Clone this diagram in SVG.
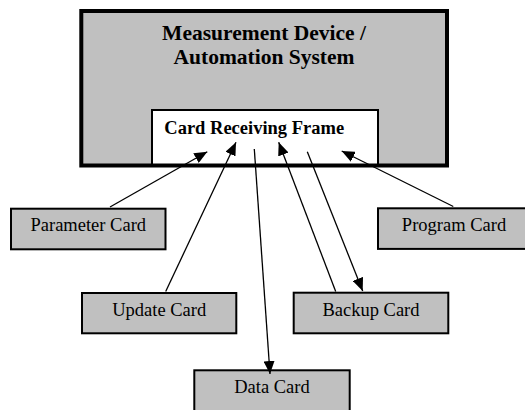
<svg xmlns="http://www.w3.org/2000/svg" width="525" height="410" viewBox="0 0 525 410">
<style>
.main{fill:#c0c0c0;stroke:none}
.outline{fill:none;stroke:#000;stroke-width:4}
.frame{fill:#fff;stroke:#000;stroke-width:2}
.card{fill:#c0c0c0;stroke:#000;stroke-width:2}
.title{font-family:"Liberation Serif","Times New Roman",serif;font-weight:bold;font-size:21.5px;fill:#000;text-anchor:middle}
.ftext{font-family:"Liberation Serif","Times New Roman",serif;font-weight:bold;font-size:18.5px;fill:#000}
.ctext{font-family:"Liberation Serif","Times New Roman",serif;font-size:18.5px;fill:#000;text-anchor:middle}
.conn{fill:none;stroke:#000;stroke-width:1.3;marker-end:url(#arrow)}
</style>
<defs>
<marker id="arrow" viewBox="0 0 13 11" refX="13" refY="5.5" markerWidth="13" markerHeight="11" markerUnits="userSpaceOnUse" orient="auto">
<path d="M0,0 L13,5.5 L0,11 z" fill="#000"/>
</marker>
</defs>
<g id="device">
<rect class="main" x="81.3" y="11" width="365.7" height="154.5"/>
<text class="title" x="264" y="40">Measurement Device /</text>
<text class="title" x="264" y="64">Automation System</text>
</g>
<g id="frame">
<rect class="frame" x="152" y="110" width="226" height="55.5"/>
<text class="ftext" x="164.3" y="134">Card Receiving Frame</text>
</g>
<rect class="outline" x="81.3" y="11" width="365.7" height="154.5"/>
<g id="parameter">
<rect class="card" x="11" y="208.7" width="154.5" height="40.6"/>
<text class="ctext" x="88.3" y="231">Parameter Card</text>
</g>
<g id="program">
<rect class="card" x="378" y="208.3" width="154.5" height="40.6"/>
<text class="ctext" x="454" y="231">Program Card</text>
</g>
<g id="update">
<rect class="card" x="82" y="293" width="154.3" height="40.3"/>
<text class="ctext" x="159.2" y="316">Update Card</text>
</g>
<g id="backup">
<rect class="card" x="293.7" y="292.7" width="154.6" height="40.6"/>
<text class="ctext" x="371" y="316">Backup Card</text>
</g>
<g id="data">
<rect class="card" x="194.3" y="370.3" width="155.4" height="45"/>
<text class="ctext" x="272" y="393.3">Data Card</text>
</g>
<g id="connectors">
<line class="conn" x1="110" y1="207" x2="207.3" y2="151.7"/>
<line class="conn" x1="165.7" y1="291.5" x2="236" y2="142.3"/>
<line class="conn" x1="254.3" y1="149" x2="270" y2="374"/>
<line class="conn" x1="335.7" y1="291.5" x2="278.7" y2="142.3"/>
<line class="conn" x1="307.3" y1="151.7" x2="362.7" y2="291"/>
<line class="conn" x1="453.3" y1="206.5" x2="341.7" y2="151"/>
</g>
</svg>
